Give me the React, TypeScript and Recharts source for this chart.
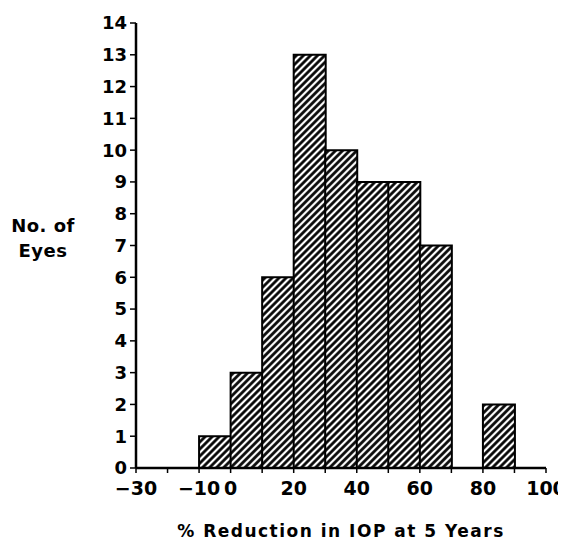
import { BarChart, Bar, XAxis, YAxis } from 'recharts'

// histogram bins (lower edge, %), 10% wide
const binStart = [-30, -20, -10, 0, 10, 20, 30, 40, 50, 60, 70, 80, 90]
const eyes = [null, null, 1, 3, 6, 13, 10, 9, 9, 7, null, 2, null]
const xTicks = [-30, -20, -10, 0, 10, 20, 30, 40, 50, 60, 70, 80, 90, 100]
const xLabeled = [-30, -10, 0, 20, 40, 60, 80, 100]
const yTicks = [0, 1, 2, 3, 4, 5, 6, 7, 8, 9, 10, 11, 12, 13, 14]

const data = binStart.map((s, i) => ({ bin: String(s), mid: s + 5, eyes: eyes[i] }))

const FONT = 'DejaVu Sans'

const fmtX = (v: number) => {
  if (!xLabeled.includes(v)) return ''
  return v < 0 ? '\u2212' + Math.abs(v) : String(v)
}

export default function App() {
  return (
    <div style={{ fontFamily: FONT }}>
      <BarChart
        width={558}
        height={540}
        data={data}
        margin={{ top: 15, right: 20, left: 0, bottom: 50 }}
        barCategoryGap={0}
      >
        <defs>
          <pattern id="hatch" patternUnits="userSpaceOnUse" width={5} height={5} patternTransform="rotate(45)">
            <rect width={5} height={5} fill="#fff" />
            <line x1={2.5} y1={0} x2={2.5} y2={5} stroke="#000" strokeWidth={2.7} />
          </pattern>
        </defs>
        <XAxis
          xAxisId="num"
          dataKey="mid"
          type="number"
          domain={[-30, 100]}
          ticks={xTicks}
          interval={0}
          allowDataOverflow
          height={30}
          tickFormatter={fmtX}
          tickSize={5}
          tickMargin={9}
          axisLine={{ stroke: '#000', strokeWidth: 2.5 }}
          tickLine={{ stroke: '#000', strokeWidth: 1.5 }}
          tick={{ fill: '#000', fontSize: 19, fontWeight: 700, fontFamily: FONT }}
          label={({ viewBox }: any) => (
            <text
              x={viewBox.x + viewBox.width / 2}
              y={529}
              textAnchor="middle"
              fill="#000"
              fontSize={17}
              fontWeight={700}
              fontFamily={FONT}
              letterSpacing={1.5}
            >
              % Reduction in IOP at 5 Years
            </text>
          )}
        />
        <XAxis xAxisId="bins" dataKey="bin" type="category" hide height={0} />
        <YAxis
          domain={[0, 14]}
          ticks={yTicks}
          interval={0}
          width={128}
          tickSize={6}
          tickMargin={3}
          axisLine={{ stroke: '#000', strokeWidth: 2.5 }}
          tickLine={{ stroke: '#000', strokeWidth: 1.5 }}
          tick={{ fill: '#000', fontSize: 18, fontWeight: 700, fontFamily: FONT }}
          label={() => (
            <text textAnchor="middle" fill="#000" fontSize={18} fontWeight={700} fontFamily={FONT} letterSpacing={0.5}>
              <tspan x={35} y={224}>No. of</tspan>
              <tspan x={35} y={249}>Eyes</tspan>
            </text>
          )}
        />
        <Bar
          xAxisId="bins"
          dataKey="eyes"
          fill="url(#hatch)"
          stroke="#000"
          strokeWidth={2}
          isAnimationActive={false}
        />
      </BarChart>
    </div>
  )
}
